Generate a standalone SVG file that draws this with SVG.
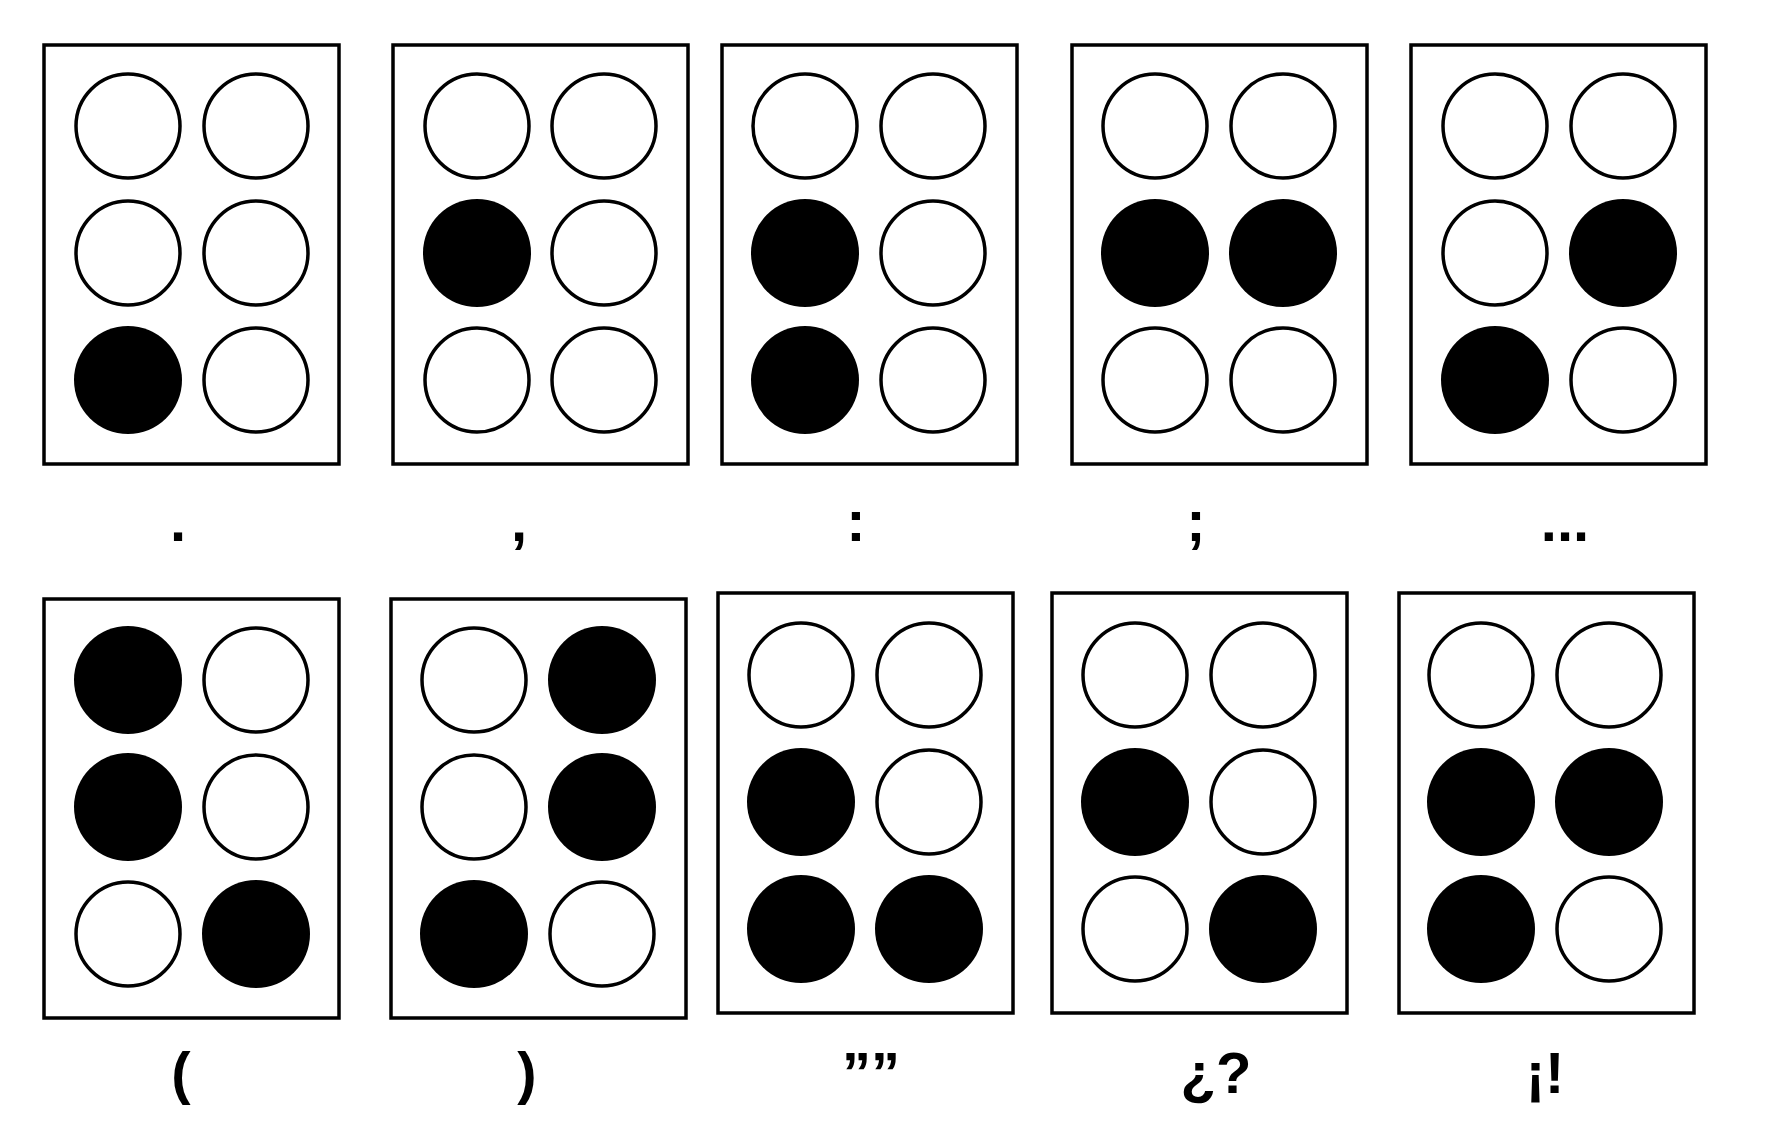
<svg xmlns="http://www.w3.org/2000/svg" width="1776" height="1147" viewBox="0 0 1776 1147">
<style>
rect.b{fill:#fff;stroke:#000;stroke-width:3.5}
circle.o{fill:#fff;stroke:#000;stroke-width:3.5}
circle.f{fill:#000}
text{font-family:"Liberation Sans",Arial,sans-serif;font-weight:bold;font-size:58px;text-anchor:middle;fill:#000}
</style>
<rect width="1776" height="1147" fill="#fff"/>
<g id="cell-period"><rect class="b" x="44" y="45" width="295" height="419"/>
<circle class="o" cx="128" cy="126" r="52"/><circle class="o" cx="256" cy="126" r="52"/>
<circle class="o" cx="128" cy="253" r="52"/><circle class="o" cx="256" cy="253" r="52"/>
<circle class="f" cx="128" cy="380" r="54"/><circle class="o" cx="256" cy="380" r="52"/>
<text x="178" y="541">.</text></g>
<g id="cell-comma"><rect class="b" x="393" y="45" width="295" height="419"/>
<circle class="o" cx="477" cy="126" r="52"/><circle class="o" cx="604" cy="126" r="52"/>
<circle class="f" cx="477" cy="253" r="54"/><circle class="o" cx="604" cy="253" r="52"/>
<circle class="o" cx="477" cy="380" r="52"/><circle class="o" cx="604" cy="380" r="52"/>
<text x="519" y="541">,</text></g>
<g id="cell-colon"><rect class="b" x="722" y="45" width="295" height="419"/>
<circle class="o" cx="805" cy="126" r="52"/><circle class="o" cx="933" cy="126" r="52"/>
<circle class="f" cx="805" cy="253" r="54"/><circle class="o" cx="933" cy="253" r="52"/>
<circle class="f" cx="805" cy="380" r="54"/><circle class="o" cx="933" cy="380" r="52"/>
<text x="856" y="541">:</text></g>
<g id="cell-semicolon"><rect class="b" x="1072" y="45" width="295" height="419"/>
<circle class="o" cx="1155" cy="126" r="52"/><circle class="o" cx="1283" cy="126" r="52"/>
<circle class="f" cx="1155" cy="253" r="54"/><circle class="f" cx="1283" cy="253" r="54"/>
<circle class="o" cx="1155" cy="380" r="52"/><circle class="o" cx="1283" cy="380" r="52"/>
<text x="1196" y="541">;</text></g>
<g id="cell-ellipsis"><rect class="b" x="1411" y="45" width="295" height="419"/>
<circle class="o" cx="1495" cy="126" r="52"/><circle class="o" cx="1623" cy="126" r="52"/>
<circle class="o" cx="1495" cy="253" r="52"/><circle class="f" cx="1623" cy="253" r="54"/>
<circle class="f" cx="1495" cy="380" r="54"/><circle class="o" cx="1623" cy="380" r="52"/>
<text x="1565" y="541">...</text></g>
<g id="cell-lparen"><rect class="b" x="44" y="599" width="295" height="419"/>
<circle class="f" cx="128" cy="680" r="54"/><circle class="o" cx="256" cy="680" r="52"/>
<circle class="f" cx="128" cy="807" r="54"/><circle class="o" cx="256" cy="807" r="52"/>
<circle class="o" cx="128" cy="934" r="52"/><circle class="f" cx="256" cy="934" r="54"/>
<text x="181" y="1093">(</text></g>
<g id="cell-rparen"><rect class="b" x="391" y="599" width="295" height="419"/>
<circle class="o" cx="474" cy="680" r="52"/><circle class="f" cx="602" cy="680" r="54"/>
<circle class="o" cx="474" cy="807" r="52"/><circle class="f" cx="602" cy="807" r="54"/>
<circle class="f" cx="474" cy="934" r="54"/><circle class="o" cx="602" cy="934" r="52"/>
<text x="527" y="1093">)</text></g>
<g id="cell-quotes"><rect class="b" x="718" y="593" width="295" height="420"/>
<circle class="o" cx="801" cy="675" r="52"/><circle class="o" cx="929" cy="675" r="52"/>
<circle class="f" cx="801" cy="802" r="54"/><circle class="o" cx="929" cy="802" r="52"/>
<circle class="f" cx="801" cy="929" r="54"/><circle class="f" cx="929" cy="929" r="54"/>
<text x="871" y="1093">””</text></g>
<g id="cell-question"><rect class="b" x="1052" y="593" width="295" height="420"/>
<circle class="o" cx="1135" cy="675" r="52"/><circle class="o" cx="1263" cy="675" r="52"/>
<circle class="f" cx="1135" cy="802" r="54"/><circle class="o" cx="1263" cy="802" r="52"/>
<circle class="o" cx="1135" cy="929" r="52"/><circle class="f" cx="1263" cy="929" r="54"/>
<text x="1216" y="1093">¿?</text></g>
<g id="cell-exclaim"><rect class="b" x="1399" y="593" width="295" height="420"/>
<circle class="o" cx="1481" cy="675" r="52"/><circle class="o" cx="1609" cy="675" r="52"/>
<circle class="f" cx="1481" cy="802" r="54"/><circle class="f" cx="1609" cy="802" r="54"/>
<circle class="f" cx="1481" cy="929" r="54"/><circle class="o" cx="1609" cy="929" r="52"/>
<text x="1545" y="1093">¡!</text></g>
<g id="connectors"/>
</svg>
